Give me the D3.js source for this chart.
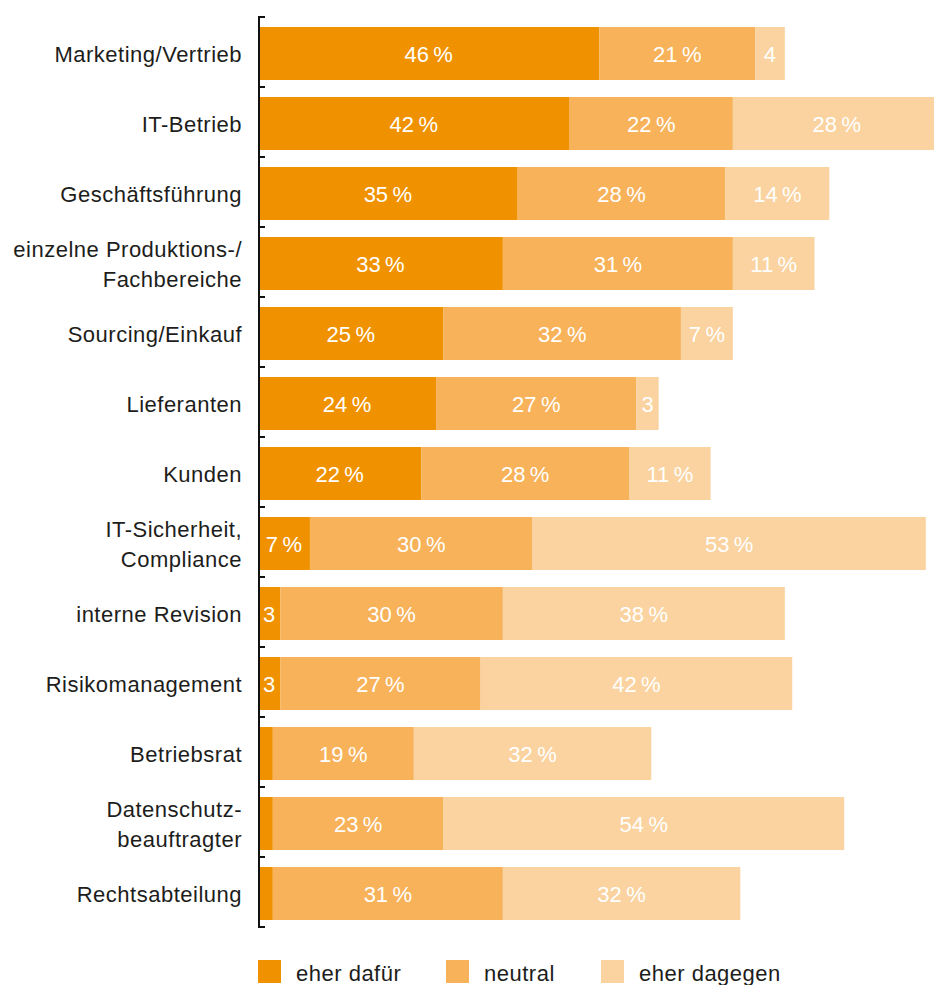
<!DOCTYPE html>
<html>
<head>
<meta charset="utf-8">
<script src="https://cdn.jsdelivr.net/npm/d3@7"></script>
<style>
  html, body { margin: 0; padding: 0; background: #fff; }
  svg { display: block; font-family: "Liberation Sans", Arial, Helvetica, sans-serif; }
</style>
</head>
<body>
<svg id="chart" width="934" height="985"></svg>
<script>
// Categories (line breaks marked with \n)
const categories = [
  "Marketing/Vertrieb",
  "IT-Betrieb",
  "Geschäftsführung",
  "einzelne Produktions-/\nFachbereiche",
  "Sourcing/Einkauf",
  "Lieferanten",
  "Kunden",
  "IT-Sicherheit,\nCompliance",
  "interne Revision",
  "Risikomanagement",
  "Betriebsrat",
  "Datenschutz-\nbeauftragter",
  "Rechtsabteilung"
];

// Shares in percent per stance
const eherDafuer  = [46, 42, 35, 33, 25, 24, 22, 7, 3, 3, 2, 2, 2];
const neutral     = [21, 22, 28, 31, 32, 27, 28, 30, 30, 27, 19, 23, 31];
const eherDagegen = [4, 28, 14, 11, 7, 3, 11, 53, 38, 42, 32, 54, 32];

const seriesNames = ["eher dafür", "neutral", "eher dagegen"];
const seriesColors = ["#f09200", "#f7b25a", "#fad3a0"];

const rows = categories.map((c, i) => ({
  cat: c,
  "eher dafür": eherDafuer[i],
  "neutral": neutral[i],
  "eher dagegen": eherDagegen[i]
}));

const svg = d3.select("#chart");

const x = d3.scaleLinear().domain([0, 100]).range([258, 1000]);
const y = d3.scaleBand()
  .domain(categories)
  .range([18.5, 928.5])
  .paddingInner(17 / 70)
  .paddingOuter(17 / 140);

const stacked = d3.stack().keys(seriesNames)(rows);

svg.append("defs").append("clipPath").attr("id", "plotclip")
  .append("rect").attr("x", 0).attr("y", 0).attr("width", 934).attr("height", 985);

const plot = svg.append("g").attr("clip-path", "url(#plotclip)");

const layer = plot.selectAll("g.layer")
  .data(stacked)
  .join("g")
  .attr("class", "layer")
  .attr("fill", (d, i) => seriesColors[i]);

layer.selectAll("rect")
  .data(d => d.map(p => ({ p, cat: p.data.cat })))
  .join("rect")
  .attr("x", d => x(d.p[0]))
  .attr("y", d => y(d.cat))
  .attr("width", d => x(d.p[1]) - x(d.p[0]))
  .attr("height", y.bandwidth());

const baseShift = 8.7;

// Value labels inside segments
const fmt = v => v >= 5 ? v + "\u2009%" : String(v);
stacked.forEach(s => {
  plot.append("g").selectAll("text")
    .data(s.filter(p => (p[1] - p[0]) >= 3))
    .join("text")
    .attr("x", p => (x(p[0]) + x(p[1])) / 2)
    .attr("y", p => y(p.data.cat) + y.bandwidth() / 2 + baseShift)
    .attr("text-anchor", "middle")
    .attr("fill", "#fff")
    .attr("font-size", 22)
    .text(p => fmt(p[1] - p[0]));
});

// Category labels
const labels = svg.append("g").selectAll("text")
  .data(categories)
  .join("text")
  .attr("text-anchor", "end")
  .attr("fill", "#1d1d1b")
  .attr("font-size", 22)
  .attr("letter-spacing", "0.5px")
  .attr("transform", d => `translate(242,${y(d) + y.bandwidth() / 2 + baseShift})`);

labels.each(function (d) {
  const lines = d.split("\n");
  const t = d3.select(this);
  lines.forEach((ln, i) => {
    t.append("tspan")
      .attr("x", 0)
      .attr("y", (i - (lines.length - 1) / 2) * 30)
      .text(ln);
  });
});

// Axis: vertical line with ticks at band boundaries
const axisTop = y.range()[0] - 1.5;
const step = y.step();
const axis = svg.append("g").attr("stroke", "#111").attr("stroke-width", 2);
axis.append("line")
  .attr("x1", 259).attr("x2", 259)
  .attr("y1", axisTop - 1).attr("y2", axisTop + step * categories.length + 1);
axis.selectAll("line.tick")
  .data(d3.range(categories.length + 1))
  .join("line")
  .attr("class", "tick")
  .attr("x1", 258).attr("x2", 265)
  .attr("y1", i => axisTop + step * i)
  .attr("y2", i => axisTop + step * i);

// Legend
const legendX = [258, 446, 601];
const legend = svg.append("g").selectAll("g")
  .data(seriesNames)
  .join("g")
  .attr("transform", (d, i) => `translate(${legendX[i]},960)`);
legend.append("rect")
  .attr("width", 23).attr("height", 23)
  .attr("fill", (d, i) => seriesColors[i]);
legend.append("text")
  .attr("x", 38).attr("y", 21)
  .attr("font-size", 22)
  .attr("letter-spacing", "0.5px")
  .attr("fill", "#1d1d1b")
  .text(d => d);
</script>
</body>
</html>
